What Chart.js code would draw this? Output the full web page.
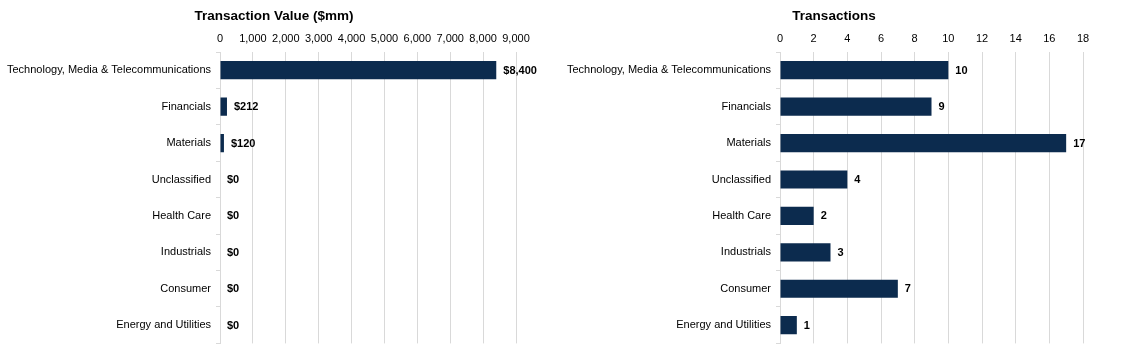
<!DOCTYPE html>
<html>
<head>
<meta charset="utf-8">
<script src="https://cdn.jsdelivr.net/npm/chart.js@4/dist/chart.umd.min.js"></script>
<style>
  html, body { margin: 0; padding: 0; background: #ffffff; }
  #wrap { position: relative; width: 1121px; height: 355px; }
  .box { position: absolute; top: 0; height: 355px; }
  #b1 { left: 0; width: 560px; }
  #b2 { left: 560px; width: 561px; }
</style>
</head>
<body>
<div id="wrap">
  <div class="box" id="b1"><canvas id="c1"></canvas></div>
  <div class="box" id="b2"><canvas id="c2"></canvas></div>
</div>
<script>
const categories = [
  "Technology, Media & Telecommunications",
  "Financials",
  "Materials",
  "Unclassified",
  "Health Care",
  "Industrials",
  "Consumer",
  "Energy and Utilities"
];
const transactionValues = [8400, 212, 120, 0, 0, 0, 0, 0];
const transactionCounts = [10, 9, 17, 4, 2, 3, 7, 1];
const valueTitle = "Transaction Value ($mm)";
const countTitle = "Transactions";
const valueAxis = { max: 9000, step: 1000 };
const countAxis = { max: 18, step: 2 };

const FONT = "'Liberation Sans', Arial, sans-serif";
const BAR = "#0c2b4e";
const GRID = "#d9d9d9";

const titlePlugin = {
  id: 'sideTitle',
  afterDraw(chart, args, opts) {
    const ctx = chart.ctx;
    ctx.save();
    ctx.font = "bold 13.5px " + FONT;
    ctx.fillStyle = "#000000";
    ctx.textAlign = "center";
    ctx.textBaseline = "middle";
    ctx.fillText(opts.text, opts.x, opts.y);
    ctx.restore();
  }
};

const labelPlugin = {
  id: 'barLabels',
  afterDatasetsDraw(chart, args, opts) {
    const ctx = chart.ctx;
    const meta = chart.getDatasetMeta(0);
    const data = chart.data.datasets[0].data;
    ctx.save();
    ctx.font = "bold 11px " + FONT;
    ctx.fillStyle = "#000000";
    ctx.textAlign = "left";
    ctx.textBaseline = "middle";
    meta.data.forEach((el, i) => {
      ctx.fillText(opts.format(data[i]), el.x + 7, el.y + 0.5);
    });
    ctx.restore();
  }
};

function makeChart(id, values, axis, title, fmt, rightPad) {
  return new Chart(document.getElementById(id), {
    type: 'bar',
    data: {
      labels: categories,
      datasets: [{
        data: values,
        backgroundColor: BAR,
        borderWidth: 0,
        barPercentage: 0.5,
        categoryPercentage: 1.0
      }]
    },
    plugins: [titlePlugin, labelPlugin],
    options: {
      indexAxis: 'y',
      responsive: true,
      maintainAspectRatio: false,
      animation: false,
      devicePixelRatio: 1,
      layout: { padding: { top: 32, left: 0, right: rightPad, bottom: 11 } },
      plugins: {
        legend: { display: false },
        tooltip: { enabled: false },
        title: { display: false },
        sideTitle: { text: title, x: 274, y: 16 },
        barLabels: { format: fmt }
      },
      scales: {
        x: {
          position: 'top',
          min: 0,
          max: axis.max,
          ticks: {
            stepSize: axis.step,
            color: "#000000",
            font: { family: FONT, size: 11 },
            padding: 6,
            maxRotation: 0
          },
          grid: { color: GRID, drawTicks: false, lineWidth: 1 },
          border: { display: false },
          afterFit(scale) { scale.height = 20; }
        },
        y: {
          ticks: {
            color: "#000000",
            font: { family: FONT, size: 11 },
            padding: 5,
            autoSkip: false
          },
          grid: { color: GRID, drawOnChartArea: false, drawTicks: true, tickLength: 4, offset: true },
          border: { display: true, color: GRID },
          afterFit(scale) { scale.width = 220; }
        }
      }
    }
  });
}

makeChart('c1', transactionValues, valueAxis, valueTitle,
  v => "$" + v.toLocaleString('en-US'), 44);
makeChart('c2', transactionCounts, countAxis, countTitle,
  v => String(v), 38);
</script>
</body>
</html>
